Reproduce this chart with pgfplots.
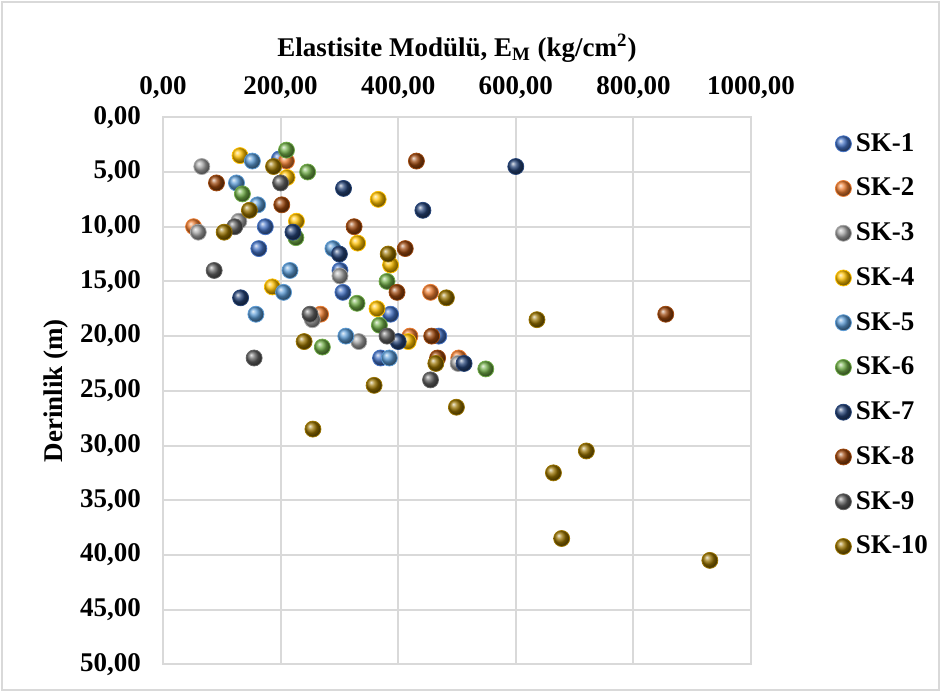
\documentclass[border=0pt]{standalone}
\usepackage{pgfplots}
\pgfplotsset{compat=1.18}
\usepackage{fontspec}
\setmainfont{Liberation Serif}

\definecolor{sk1}{HTML}{4472C4}
\definecolor{sk2}{HTML}{ED7D31}
\definecolor{sk3}{HTML}{A5A5A5}
\definecolor{sk4}{HTML}{FFC000}
\definecolor{sk5}{HTML}{5B9BD5}
\definecolor{sk6}{HTML}{70AD47}
\definecolor{sk7}{HTML}{264478}
\definecolor{sk8}{HTML}{9E480E}
\definecolor{sk9}{HTML}{636363}
\definecolor{sk10}{HTML}{997300}
\definecolor{gridgray}{HTML}{D9D9D9}

\newcommand{\chartfont}{\fontsize{13.5bp}{16bp}\selectfont\bfseries}

\pgfplotsset{
  skball/.style={only marks, mark=ball, mark size=4bp, color=#1,
                 mark options={ball color=#1}},
}

\begin{document}
\begin{tikzpicture}
\begin{axis}[
  at={(81.5bp,-58.65bp)}, anchor=north west,
  scale only axis, width=294bp, height=273.5bp,
  xmin=0, xmax=1000, ymin=0, ymax=50, y dir=reverse,
  xtick={0,200,...,1000}, ytick={0,5,...,50},
  xticklabel pos=upper,
  grid=major,
  major grid style={draw=gridgray, line width=1bp},
  axis line style={draw=gridgray, line width=1bp},
  major tick length=0pt,
  /pgf/number format/fixed,
  /pgf/number format/fixed zerofill,
  /pgf/number format/precision=2,
  /pgf/number format/use comma,
  /pgf/number format/1000 sep={},
  /pgf/number format/assume math mode=true,
  tick label style={font=\chartfont},
  xticklabel style={yshift=6bp},
  yticklabel style={xshift=-7.5bp},
  label style={font=\chartfont},
  xlabel style={yshift=0bp},
  xlabel={Elastisite Modülü, E\textsubscript{M} (kg/cm\textsuperscript{2})},
  ylabel={Derinlik (m)},
  ylabel style={yshift=-1bp},
  legend style={draw=none, fill=none, at={(1.132,0.986)}, anchor=north west,
                font=\chartfont, row sep=7.95bp},
  legend cell align=left,
  clip=false,
]
\addplot[skball=sk1] coordinates {
  (198,3.8) (174,10.0) (163,12.0) (301,14.0) (306,16.0) (387,18.0) (469,20.0) (370,22.0)};
\addlegendentry{SK-1}
\addplot[skball=sk2] coordinates {
  (210,4.0) (52,10.0) (455,16.0) (268,18.0) (420,20.0) (503,22.0)};
\addlegendentry{SK-2}
\addplot[skball=sk3] coordinates {
  (66,4.5) (129,9.5) (60,10.5) (301,14.5) (254,18.5) (333,20.5) (502,22.5)};
\addlegendentry{SK-3}
\addplot[skball=sk4] coordinates {
  (131,3.5) (211,5.5) (366,7.5) (227,9.5) (331,11.5) (387,13.5) (186,15.5) (364,17.5) (417,20.5)};
\addlegendentry{SK-4}
\addplot[skball=sk5] coordinates {
  (152,4.0) (125,6.0) (161,8.0) (289,12.0) (216,14.0) (205,16.0) (158,18.0) (311,20.0) (385,22.0)};
\addlegendentry{SK-5}
\addplot[skball=sk6] coordinates {
  (210,3.0) (246,5.0) (135,7.0) (226,11.0) (381,15.0) (330,17.0) (368,19.0) (271,21.0) (549,23.0)};
\addlegendentry{SK-6}
\addplot[skball=sk7] coordinates {
  (600,4.5) (307,6.5) (442,8.5) (221,10.5) (300,12.5) (132,16.5) (400,20.5) (512,22.5)};
\addlegendentry{SK-7}
\addplot[skball=sk8] coordinates {
  (431,4.0) (91,6.0) (202,8.0) (325,10.0) (412,12.0) (398,16.0) (855,18.0) (457,20.0) (467,22.0)};
\addlegendentry{SK-8}
\addplot[skball=sk9] coordinates {
  (200,6.0) (122,10.0) (87,14.0) (250,18.0) (381,20.0) (155,22.0) (455,24.0)};
\addlegendentry{SK-9}
\addplot[skball=sk10] coordinates {
  (188,4.5) (147,8.5) (104,10.5) (383,12.5) (482,16.5) (636,18.5) (240,20.5) (464,22.5)
  (359,24.5) (499,26.5) (255,28.5) (720,30.5) (664,32.5) (678,38.5) (930,40.5)};
\addlegendentry{SK-10}
\end{axis}
\draw[gridgray, line width=1bp] (1bp,-1bp) rectangle (469.5bp,-345bp);
\pgfresetboundingbox
\path[use as bounding box] (0,0) rectangle (470.5bp,-346bp);
\end{tikzpicture}
\end{document}
